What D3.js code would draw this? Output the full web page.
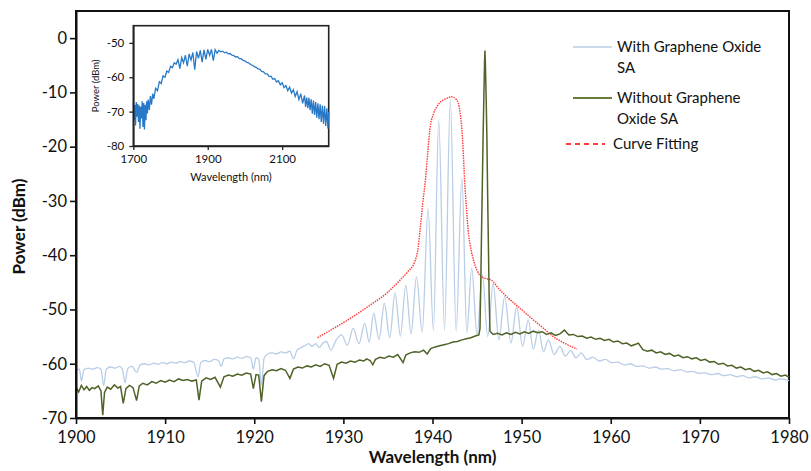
<!DOCTYPE html>
<html>
<head>
<meta charset="utf-8">
<script src="https://cdn.jsdelivr.net/npm/d3@7"></script>
<style>
  html, body { margin: 0; padding: 0; background: #fff; }
  svg { display: block; font-family: Lato, "Open Sans", sans-serif; }
</style>
</head>
<body>
<svg id="chart" width="811" height="471"></svg>
<script>
// ---------------- DATA ----------------
const xTicks = [1900, 1910, 1920, 1930, 1940, 1950, 1960, 1970, 1980];
const yTicks = [-70, -60, -50, -40, -30, -20, -10, 0];
const insetXTicks = [1700, 1900, 2100];
const insetYTicks = [-80, -70, -60, -50];
const seriesNames = ["With Graphene Oxide SA", "Without Graphene Oxide SA", "Curve Fitting"];

// With Graphene Oxide SA : [wavelength nm, power dBm]
const withGO = [
  [1900.0,-61.2],[1900.4,-61.0],[1900.6,-63.2],[1900.9,-61.1],[1901.4,-60.8],[1901.9,-61.0],
  [1902.4,-60.7],[1902.8,-61.0],[1903.1,-64.0],[1903.4,-61.0],[1903.9,-60.6],[1904.4,-60.8],
  [1904.9,-60.5],[1905.2,-61.0],[1905.5,-63.5],[1905.8,-60.9],[1906.3,-60.5],[1906.8,-61.6],
  [1907.2,-60.2],[1907.7,-60.0],[1908.2,-60.2],[1908.7,-59.9],[1909.2,-60.1],[1909.7,-59.8],
  [1910.2,-60.0],[1910.7,-59.7],[1911.2,-59.9],[1911.7,-59.6],[1912.2,-59.8],[1912.7,-59.5],
  [1913.2,-59.7],[1913.7,-62.4],[1914.0,-59.8],[1914.5,-59.4],[1915.0,-59.6],[1915.5,-59.2],
  [1916.0,-59.4],[1916.3,-60.5],[1916.6,-59.1],[1917.1,-58.9],[1917.6,-59.1],[1918.1,-58.8],
  [1918.6,-59.0],[1919.1,-58.7],[1919.6,-58.9],[1919.9,-61.0],[1920.2,-58.9],[1920.5,-59.2],
  [1920.8,-63.9],[1921.1,-59.0],[1921.5,-58.2],[1922.0,-58.0],[1922.5,-58.2],[1923.0,-57.8],
  [1923.5,-58.0],[1924.0,-57.7],[1924.4,-59.1],[1924.8,-57.5],[1925.3,-57.0],[1925.8,-56.6],
  [1926.1,-56.3],[1926.5,-56.8],[1926.9,-56.3],[1927.3,-57.0],[1927.7,-56.2],[1928.1,-55.9],
  [1928.6,-57.5],[1929.2,-55.6],[1929.8,-54.7],[1930.45,-56.6],[1931.1,-53.5],[1931.75,-56.3],
  [1932.4,-52.5],[1932.9,-56.0],[1933.4,-50.7],[1934.0,-55.5],[1934.6,-48.9],[1935.2,-55.2],
  [1935.8,-47.0],[1936.4,-54.9],[1937.0,-45.5],[1937.6,-54.5],[1938.2,-44.0],[1938.85,-54.2],
  [1939.5,-31.4],[1940.1,-53.8],[1940.7,-15.1],[1941.35,-53.8],[1942.0,-11.4],[1942.65,-54.0],
  [1943.3,-25.8],[1943.85,-54.3],[1944.4,-42.4],[1945.0,-54.8],[1945.6,-43.6],[1946.2,-55.0],
  [1946.8,-45.2],[1947.45,-55.6],[1948.1,-47.6],[1948.8,-56.2],[1949.45,-49.5],[1950.1,-56.8],
  [1950.75,-51.9],[1951.3,-57.3],[1951.9,-53.8],[1952.45,-57.8],[1953.0,-55.6],[1953.65,-58.3],
  [1954.3,-56.8],[1954.9,-58.6],[1955.5,-57.6],[1956.1,-58.9],[1956.7,-58.0],[1957.3,-59.2],
  [1958.0,-58.8],[1958.7,-59.5],[1959.4,-59.2],[1960.1,-59.8],[1960.8,-59.7],[1961.5,-60.2],
  [1962.2,-60.0],[1962.9,-60.5],[1963.6,-60.4],[1964.3,-60.8],[1965.0,-60.6],[1965.7,-61.0],
  [1966.4,-60.9],[1967.1,-61.3],[1967.8,-61.1],[1968.5,-61.5],[1969.2,-61.4],[1969.9,-61.8],
  [1970.6,-61.7],[1971.3,-62.0],[1972.0,-61.8],[1972.7,-62.2],[1973.4,-62.0],[1974.1,-62.4],
  [1974.8,-62.2],[1975.5,-62.6],[1976.2,-62.4],[1977.0,-62.8],[1977.7,-62.6],[1978.4,-63.0],
  [1979.1,-62.8],[1980.0,-63.1]
];

// Without Graphene Oxide SA : [wavelength nm, power dBm]
const withoutGO = [
  [1900.0,-64.3],[1900.3,-65.2],[1900.6,-64.0],[1900.9,-64.8],[1901.2,-64.2],[1901.5,-64.9],
  [1901.8,-64.4],[1902.1,-64.6],[1902.5,-64.1],[1902.8,-65.0],[1903.0,-69.5],[1903.2,-65.3],
  [1903.5,-64.3],[1903.9,-64.7],[1904.3,-63.9],[1904.7,-64.5],[1905.0,-64.2],[1905.3,-67.3],
  [1905.6,-64.6],[1906.0,-64.0],[1906.4,-64.4],[1906.8,-66.8],[1907.1,-64.1],[1907.5,-63.6],
  [1908.0,-63.9],[1908.5,-63.3],[1909.0,-63.6],[1909.5,-63.1],[1910.0,-63.4],[1910.5,-63.0],
  [1911.0,-63.3],[1911.5,-62.8],[1912.0,-63.1],[1912.5,-62.9],[1913.0,-63.2],[1913.5,-63.0],
  [1913.8,-66.7],[1914.1,-63.2],[1914.6,-62.6],[1915.1,-62.9],[1915.6,-62.5],[1916.2,-64.3],
  [1916.6,-62.4],[1917.1,-62.1],[1917.6,-62.3],[1918.1,-61.9],[1918.6,-62.1],[1919.1,-61.7],
  [1919.6,-61.9],[1919.9,-64.6],[1920.2,-62.0],[1920.5,-62.1],[1920.8,-67.0],[1921.1,-62.2],
  [1921.5,-61.4],[1922.0,-61.1],[1922.5,-61.3],[1923.0,-60.9],[1923.5,-61.2],[1924.0,-62.7],
  [1924.4,-61.0],[1924.9,-60.6],[1925.4,-60.8],[1925.9,-60.4],[1926.4,-60.6],[1926.9,-60.2],
  [1927.4,-60.5],[1927.9,-60.0],[1928.4,-60.3],[1928.9,-62.7],[1929.3,-60.1],[1929.8,-59.7],
  [1930.3,-59.9],[1930.8,-59.5],[1931.3,-59.7],[1931.8,-59.3],[1932.3,-59.5],[1932.6,-59.1],
  [1933.0,-59.4],[1933.3,-60.2],[1933.6,-59.2],[1934.1,-58.8],[1934.6,-59.0],[1935.1,-58.6],
  [1935.6,-58.8],[1936.1,-58.3],[1936.7,-59.8],[1937.0,-58.4],[1937.5,-58.0],[1938.0,-57.8],
  [1938.5,-57.9],[1939.0,-57.5],[1939.4,-58.2],[1939.8,-57.2],[1940.3,-56.9],[1940.8,-56.7],
  [1941.3,-56.5],[1941.8,-56.3],[1942.3,-56.0],[1942.8,-55.9],[1943.3,-55.6],[1943.8,-55.4],
  [1944.3,-55.2],[1944.8,-54.9],[1945.2,-54.7],[1945.33,-53.5],[1945.42,-45.0],[1945.5,-36.0],
  [1945.58,-28.0],[1945.68,-18.0],[1945.76,-11.0],[1945.84,-4.5],[1945.88,-2.3],[1945.93,-4.5],
  [1946.02,-11.0],[1946.1,-18.0],[1946.18,-28.0],[1946.27,-38.0],[1946.36,-48.0],[1946.45,-54.0],
  [1946.8,-54.6],[1947.3,-54.4],[1947.8,-54.7],[1948.3,-54.3],[1948.8,-54.6],[1949.3,-54.2],
  [1949.8,-54.5],[1950.3,-54.1],[1950.8,-54.4],[1951.3,-54.0],[1951.8,-54.3],[1952.3,-54.1],
  [1952.8,-54.6],[1953.3,-54.3],[1953.8,-54.8],[1954.3,-54.5],[1954.8,-53.8],[1955.3,-54.7],
  [1955.8,-54.6],[1956.3,-55.0],[1956.8,-54.9],[1957.3,-55.3],[1957.8,-55.1],[1958.3,-55.5],
  [1958.8,-55.3],[1959.3,-55.7],[1959.8,-55.5],[1960.3,-56.0],[1960.8,-55.8],[1961.3,-56.3],
  [1961.8,-56.2],[1962.3,-56.7],[1962.8,-56.4],[1963.1,-56.2],[1963.6,-57.4],[1964.1,-57.7],
  [1964.6,-57.5],[1965.1,-58.0],[1965.6,-57.8],[1966.1,-58.3],[1966.6,-58.1],[1967.1,-58.6],
  [1967.6,-58.4],[1968.1,-58.9],[1968.6,-58.7],[1969.1,-59.1],[1969.6,-58.9],[1970.1,-59.4],
  [1970.6,-59.2],[1971.1,-59.7],[1971.6,-59.6],[1972.1,-60.1],[1972.6,-59.9],[1973.1,-60.4],
  [1973.6,-60.3],[1974.1,-60.8],[1974.6,-60.6],[1975.1,-61.1],[1975.6,-60.9],[1976.1,-61.4],
  [1976.6,-61.2],[1977.1,-61.7],[1977.6,-61.5],[1978.1,-62.0],[1978.6,-61.8],[1979.1,-62.3],
  [1979.6,-62.1],[1980.0,-62.5]
];

// Curve Fitting : [wavelength nm, power dBm]
const curveFit = [
  [1927.1,-55.2],[1929.0,-53.4],[1931.0,-51.4],[1933.0,-49.2],[1935.0,-46.8],[1936.35,-44.6],
  [1937.2,-43.1],[1938.0,-41.2],[1938.4,-38.5],[1938.6,-35.4],[1938.9,-30.5],[1939.2,-26.2],
  [1939.5,-20.5],[1939.7,-16.9],[1940.1,-14.0],[1940.5,-12.6],[1941.0,-11.6],[1941.6,-11.1],
  [1942.15,-10.8],[1942.6,-11.2],[1942.9,-12.0],[1943.1,-13.8],[1943.3,-16.9],[1943.45,-21.0],
  [1943.6,-26.2],[1943.8,-31.0],[1944.0,-35.4],[1944.3,-38.8],[1944.6,-40.9],[1945.0,-42.8],
  [1945.5,-44.0],[1946.0,-44.3],[1946.6,-44.6],[1947.5,-46.3],[1948.5,-47.9],[1949.9,-49.9],
  [1951.3,-51.9],[1952.4,-53.4],[1953.55,-55.0],[1954.9,-56.3],[1956.2,-57.3]
];

// Inset: broadband spectrum : [wavelength nm, power dBm]
const insetSpectrum = [
  [1700,-67.5],[1702,-72.5],[1704,-68.0],[1706,-74.0],[1708,-67.2],[1710,-71.5],[1712,-67.8],
  [1714,-73.0],[1716,-68.2],[1718,-75.0],[1720,-68.5],[1722,-72.0],[1724,-67.0],[1726,-74.5],
  [1728,-67.5],[1730,-75.2],[1732,-68.0],[1734,-72.5],[1736,-67.0],[1738,-70.5],[1740,-66.5],
  [1743,-69.5],[1746,-65.5],[1749,-68.0],[1752,-64.8],[1755,-66.3],[1760,-63.2],[1765,-63.9],
  [1770,-61.3],[1775,-61.8],[1780,-59.6],[1785,-60.0],[1790,-58.2],[1795,-58.6],[1800,-56.8],
  [1805,-57.2],[1810,-55.8],[1815,-56.2],[1820,-54.9],[1825,-57.5],[1830,-54.3],[1835,-55.8],
  [1840,-53.6],[1845,-56.8],[1850,-53.2],[1855,-55.0],[1860,-52.8],[1865,-57.8],[1870,-52.5],
  [1875,-54.5],[1880,-52.2],[1885,-55.6],[1890,-52.0],[1895,-54.8],[1900,-51.9],[1905,-53.6],
  [1910,-51.9],[1915,-55.2],[1920,-52.0],[1925,-53.0],[1930,-52.2],[1935,-52.6],[1940,-52.4],
  [1945,-52.9],[1950,-52.7],[1955,-53.2],[1960,-53.1],[1965,-53.6],[1970,-53.7],[1975,-54.1],
  [1980,-54.0],[1985,-54.6],[1990,-54.6],[1995,-55.1],[2000,-55.2],[2005,-55.7],[2010,-55.8],
  [2015,-56.3],[2020,-56.5],[2025,-56.9],[2030,-57.1],[2035,-57.6],[2040,-57.7],[2045,-58.3],
  [2050,-58.4],[2055,-59.0],[2060,-59.0],[2065,-59.8],[2070,-59.7],[2075,-60.6],[2080,-60.4],
  [2085,-61.4],[2090,-61.0],[2095,-62.2],[2100,-61.6],[2105,-63.0],[2110,-62.4],[2115,-63.9],
  [2120,-62.9],[2125,-64.6],[2130,-63.6],[2135,-65.6],[2140,-64.2],[2145,-66.5],[2150,-64.8],
  [2155,-67.6],[2160,-65.3],[2163,-68.6],[2166,-65.9],[2169,-69.0],[2172,-66.0],[2175,-69.6],
  [2178,-66.4],[2181,-70.6],[2184,-66.8],[2187,-71.0],[2190,-67.2],[2193,-71.8],[2196,-67.6],
  [2199,-72.2],[2202,-67.9],[2205,-73.0],[2208,-68.2],[2211,-73.5],[2214,-68.4],[2217,-74.2],
  [2220,-69.0],[2223,-75.0],[2225,-70.0]
];

// ---------------- CHART ----------------
const svg = d3.select("#chart");

const M = { left: 76, right: 789, top: 11, bottom: 418 };
const x = d3.scaleLinear().domain([1900, 1980]).range([M.left, M.right]);
const y = d3.scaleLinear().domain([-70, 5]).range([M.bottom, M.top]);

const colors = { withGO: "#b9cde6", withoutGO: "#4f6228", fit: "#ff3b3b", inset: "#2878c8" };

// plot frame (top & right)
svg.append("rect")
  .attr("x", M.left).attr("y", M.top)
  .attr("width", M.right - M.left).attr("height", M.bottom - M.top)
  .attr("fill", "none").attr("stroke", "#111").attr("stroke-width", 2);

svg.append("path").datum(withGO)
  .attr("d", d3.line().x(d => x(d[0])).y(d => y(d[1])).curve(d3.curveMonotoneX))
  .attr("fill", "none").attr("stroke", colors.withGO).attr("stroke-width", 1.3);

svg.append("path").datum(curveFit)
  .attr("d", d3.line().x(d => x(d[0])).y(d => y(d[1])).curve(d3.curveMonotoneX))
  .attr("fill", "none").attr("stroke", colors.fit).attr("stroke-width", 1.4)
  .attr("stroke-dasharray", "1.5,1");

svg.append("path").datum(withoutGO)
  .attr("d", d3.line().x(d => x(d[0])).y(d => y(d[1])))
  .attr("fill", "none").attr("stroke", colors.withoutGO).attr("stroke-width", 1.5);

// axes
const xAxis = svg.append("g").attr("transform", `translate(0,${M.bottom})`)
  .call(d3.axisBottom(x).tickValues(xTicks).tickSize(6).tickSizeOuter(0).tickFormat(d => String(d)));
const yAxis = svg.append("g").attr("transform", `translate(${M.left},0)`)
  .call(d3.axisLeft(y).tickValues(yTicks).tickSize(6).tickSizeOuter(0).tickFormat(d => String(d)));
[xAxis, yAxis].forEach(g => {
  g.select(".domain").attr("stroke", "#111").attr("stroke-width", 2);
  g.selectAll(".tick line").attr("stroke", "#111").attr("stroke-width", 1.6);
  g.selectAll(".tick text").attr("fill", "#111").style("font-size", "16.5px")
    .style("font-family", "Lato, 'Open Sans', sans-serif");
});
xAxis.selectAll(".tick text").attr("dy", "0.95em");
yAxis.selectAll(".tick text").attr("x", -9);

svg.append("text").attr("x", (M.left + M.right) / 2).attr("y", 463)
  .attr("text-anchor", "middle").style("font-size", "17px").style("font-weight", "bold")
  .attr("fill", "#111").text("Wavelength (nm)");
svg.append("text").attr("transform", `translate(25,${(M.top + M.bottom) / 2 + 12}) rotate(-90)`)
  .attr("text-anchor", "middle").style("font-size", "17px").style("font-weight", "bold")
  .attr("fill", "#111").text("Power (dBm)");

// legend
const legend = svg.append("g");
const legItems = [
  { lines: ["With Graphene Oxide", "SA"], color: colors.withGO, y: 47, x1: 573, x2: 612, tx: 617, dash: null, w: 1.3 },
  { lines: ["Without Graphene", "Oxide SA"], color: "#6a7a3c", y: 98, x1: 573, x2: 612, tx: 617, dash: null, w: 2 },
  { lines: ["Curve Fitting"], color: colors.fit, y: 144, x1: 566, x2: 605, tx: 613, dash: "5,4", w: 2.2 }
];
legItems.forEach(it => {
  legend.append("line").attr("x1", it.x1).attr("x2", it.x2).attr("y1", it.y).attr("y2", it.y)
    .attr("stroke", it.color).attr("stroke-width", it.w).attr("stroke-dasharray", it.dash);
  it.lines.forEach((t, j) => {
    legend.append("text").attr("x", it.tx).attr("y", it.y + j * 20.5).attr("dy", "0.35em")
      .style("font-size", "15px").attr("fill", "#111").text(t);
  });
});

// ---------------- INSET ----------------
const I = { left: 133.3, right: 328.7, top: 25.7, bottom: 146 };
const ix = d3.scaleLinear().domain([1700, 2225]).range([I.left, I.right]);
const iy = d3.scaleLinear().domain([-80, -45]).range([I.bottom, I.top]);

svg.append("rect").attr("x", I.left).attr("y", I.top)
  .attr("width", I.right - I.left).attr("height", I.bottom - I.top)
  .attr("fill", "#fff").attr("stroke", "#222").attr("stroke-width", 1.6);

svg.append("path").datum(insetSpectrum)
  .attr("d", d3.line().x(d => ix(d[0])).y(d => iy(d[1])))
  .attr("fill", "none").attr("stroke", colors.inset).attr("stroke-width", 1.3);

const ixAxis = svg.append("g").attr("transform", `translate(0,${I.bottom})`)
  .call(d3.axisBottom(ix).tickValues(insetXTicks).tickSize(4).tickSizeOuter(0).tickFormat(d => String(d)));
const iyAxis = svg.append("g").attr("transform", `translate(${I.left},0)`)
  .call(d3.axisLeft(iy).tickValues(insetYTicks).tickSize(4).tickSizeOuter(0).tickFormat(d => String(d)));
[ixAxis, iyAxis].forEach(g => {
  g.select(".domain").attr("stroke", "#222").attr("stroke-width", 1.6);
  g.selectAll(".tick line").attr("stroke", "#222").attr("stroke-width", 1.3);
  g.selectAll(".tick text").attr("fill", "#111").style("font-size", "11.5px")
    .style("font-family", "Lato, 'Open Sans', sans-serif");
});
iyAxis.selectAll(".tick text").attr("x", -9);
ixAxis.selectAll(".tick text").attr("dy", "0.9em");

svg.append("text").attr("x", (I.left + I.right) / 2).attr("y", 181)
  .attr("text-anchor", "middle").style("font-size", "11px").attr("fill", "#111").text("Wavelength (nm)");
svg.append("text").attr("transform", `translate(99,${(I.top + I.bottom) / 2}) rotate(-90)`)
  .attr("text-anchor", "middle").style("font-size", "9.5px").attr("fill", "#111").text("Power (dBm)");
</script>
</body>
</html>
